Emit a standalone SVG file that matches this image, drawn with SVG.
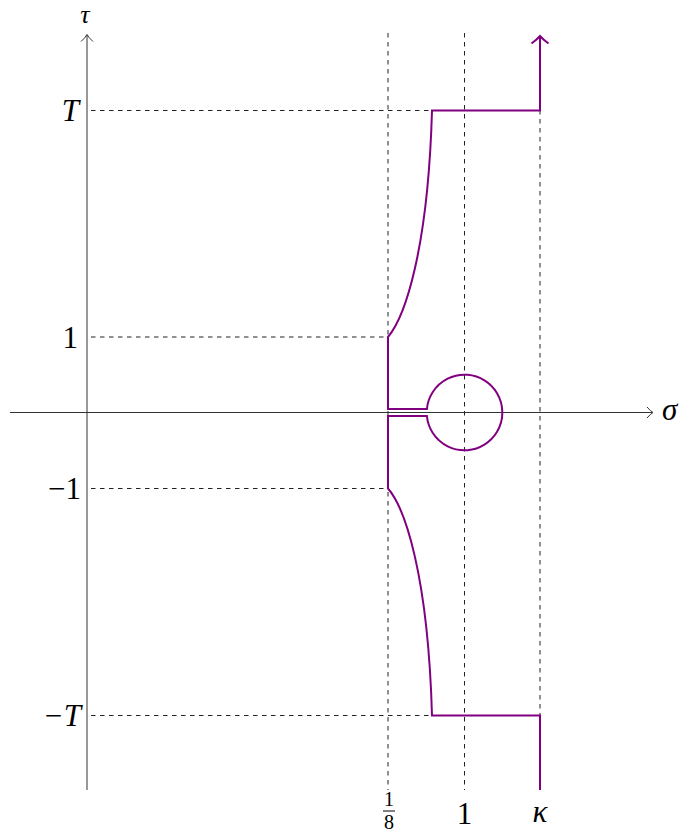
<svg xmlns="http://www.w3.org/2000/svg" width="679" height="836" viewBox="0 0 679 836">
<style>
.ax{stroke:#333;stroke-width:1;fill:none}
.dash{stroke:#222;stroke-width:1;stroke-dasharray:4.5 4.5;fill:none}
.cont{stroke:#800080;stroke-width:2;fill:none;stroke-linejoin:miter}
.t{font-family:"Liberation Serif",serif;font-size:31px;fill:#000}
.i{font-style:italic}
.s{font-size:20px}
</style>
<rect width="679" height="836" fill="#fff"/>
<g id="axes">
<line class="ax" x1="10" y1="412.5" x2="652" y2="412.5"/>
<path class="ax" d="M647,407 Q650.5,411 653,412.5 Q650.5,414 647,418"/>
<line class="ax" x1="87" y1="790" x2="87" y2="35"/>
<path class="ax" d="M81,41.5 Q85.5,37.5 87,34.5 Q88.5,37.5 93,41.5"/>
<text class="t i" x="662" y="420">σ</text>
<text class="t i" x="85" y="23" text-anchor="middle" style="font-size:26px">τ</text>
</g>
<g id="guides">
<line class="dash" x1="388" y1="33" x2="388" y2="790"/>
<line class="dash" x1="464.5" y1="33" x2="464.5" y2="790"/>
<line class="dash" x1="540" y1="110" x2="540" y2="790"/>
<line class="dash" x1="91" y1="110.5" x2="432" y2="110.5"/>
<line class="dash" x1="91" y1="337" x2="388" y2="337"/>
<line class="dash" x1="91" y1="488.5" x2="388" y2="488.5"/>
<line class="dash" x1="91" y1="715.5" x2="432" y2="715.5"/>
</g>
<g id="labels">
<text class="t i" x="79" y="121" text-anchor="end">T</text>
<text class="t" x="78" y="348" text-anchor="end">1</text>
<text class="t" x="81" y="499" text-anchor="end">−1</text>
<text class="t i" x="81" y="726" text-anchor="end">−T</text>
<text class="t s" x="389" y="806" text-anchor="middle">1</text>
<line x1="383" y1="811" x2="395" y2="811" stroke="#000" stroke-width="1"/>
<text class="t s" x="389" y="829" text-anchor="middle">8</text>
<text class="t" x="464.5" y="824" text-anchor="middle">1</text>
<text class="t i" x="540" y="822" text-anchor="middle">κ</text>
</g>
<g id="contour">
<path class="cont" d="M540,790 V715.5 H432 C428,575 405,508 388,488.5 V416 H426.9 A37.8,37.8 0 1 0 426.9,409 H388 V337 C405,317 428,250 432,110.5 H540 V37"/>
<path class="cont" d="M531.5,43.5 Q537,39.5 540,36 Q543,39.5 548.5,43.5"/>
</g>
</svg>
